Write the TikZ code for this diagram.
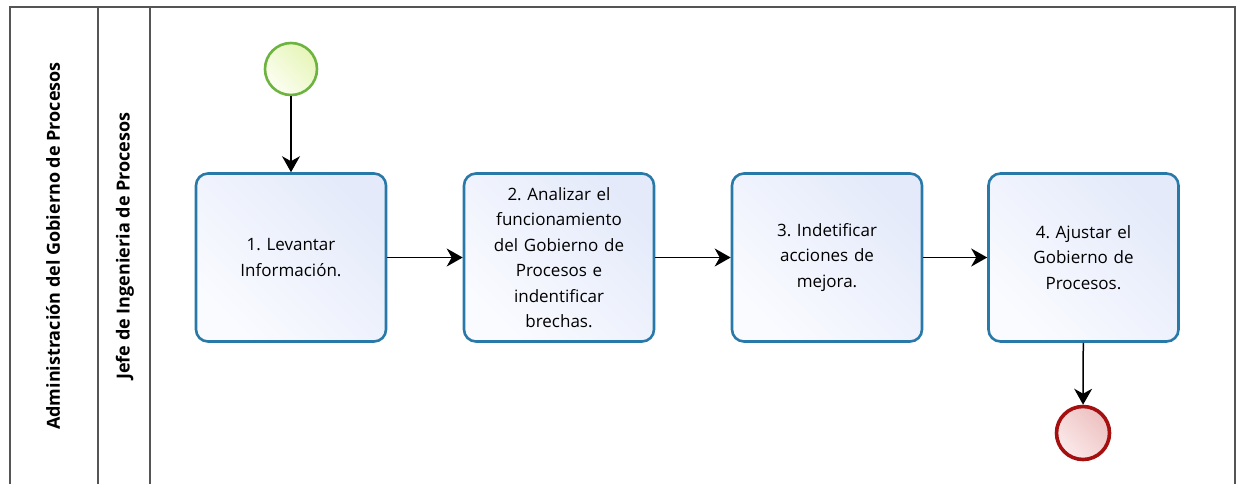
\documentclass[tikz,border=0pt]{standalone}
\usepackage{fontspec}
\setmainfont{Open Sans}
\frenchspacing
\usetikzlibrary{arrows.meta}
\definecolor{framec}{HTML}{555555}
\definecolor{taskb}{HTML}{2878A8}
\definecolor{taskf1}{HTML}{FAFBFF}
\definecolor{taskf2}{HTML}{E4EAFA}
\definecolor{startb}{HTML}{6DB33F}
\definecolor{startf1}{HTML}{FCFEF2}
\definecolor{startf2}{HTML}{E6F5B8}
\definecolor{endb}{HTML}{A50F0F}
\definecolor{endf1}{HTML}{FBEAEA}
\definecolor{endf2}{HTML}{EDC0C0}
\tikzset{
  task/.style={draw=taskb, line width=2.6pt, rounded corners=12pt,
    left color=taskf1, right color=taskf2, shading angle=135,
    minimum width=190pt, minimum height=168pt, align=center, text width=180pt,
    font=\fontsize{17}{25.5}\selectfont, inner sep=0pt},
  startev/.style={circle, draw=startb, line width=2.6pt, minimum size=52pt,
    left color=startf1, right color=startf2, shading angle=135, inner sep=0pt},
  endev/.style={circle, draw=endb, line width=3.6pt, minimum size=53pt,
    left color=endf1, right color=endf2, shading angle=135, inner sep=0pt},
  flow/.style={draw=black, line width=1.5pt, -{Stealth[length=16pt,width=18pt,inset=5pt]}},
  lanelbl/.style={rotate=90, font=\bfseries\fontsize{18}{20}\selectfont},
  framel/.style={draw=framec, line width=1.4pt}
}
\begin{document}
\begin{tikzpicture}[x=1pt,y=-1pt]
\useasboundingbox (0,0) rectangle (1236,483);
% frame
\draw[framel] (10,490) -- (10,7) -- (1235,7) -- (1235,490);
\draw[framel] (98,7) -- (98,490);
\draw[framel] (150,7) -- (150,490);
\node[lanelbl] (pool) at (53,246) {Administración del Gobierno de Procesos};
\node[lanelbl] (lane) at (125,246) {Jefe de Ingenieria de Procesos};
% events and tasks
\node[startev] (start) at (291,69) {};
\node[task] (t1) at (291,257.5) {1. Levantar\\Información.};
\node[task] (t2) at (559,257.5) {2. Analizar el\\funcionamiento\\del Gobierno de\\Procesos e\\indentificar\\brechas.};
\node[task] (t3) at (827,257.5) {3. Indetificar\\acciones de\\mejora.};
\node[task] (t4) at (1083.5,257.5) {4. Ajustar el\\Gobierno de\\Procesos.};
\node[endev] (end) at (1083,433) {};
% flows
\draw[flow] (start) -- (t1);
\draw[flow] (t1) -- (t2);
\draw[flow] (t2) -- (t3);
\draw[flow] (t3) -- (t4);
\draw[flow] (t4) -- (end);
\end{tikzpicture}
\end{document}
